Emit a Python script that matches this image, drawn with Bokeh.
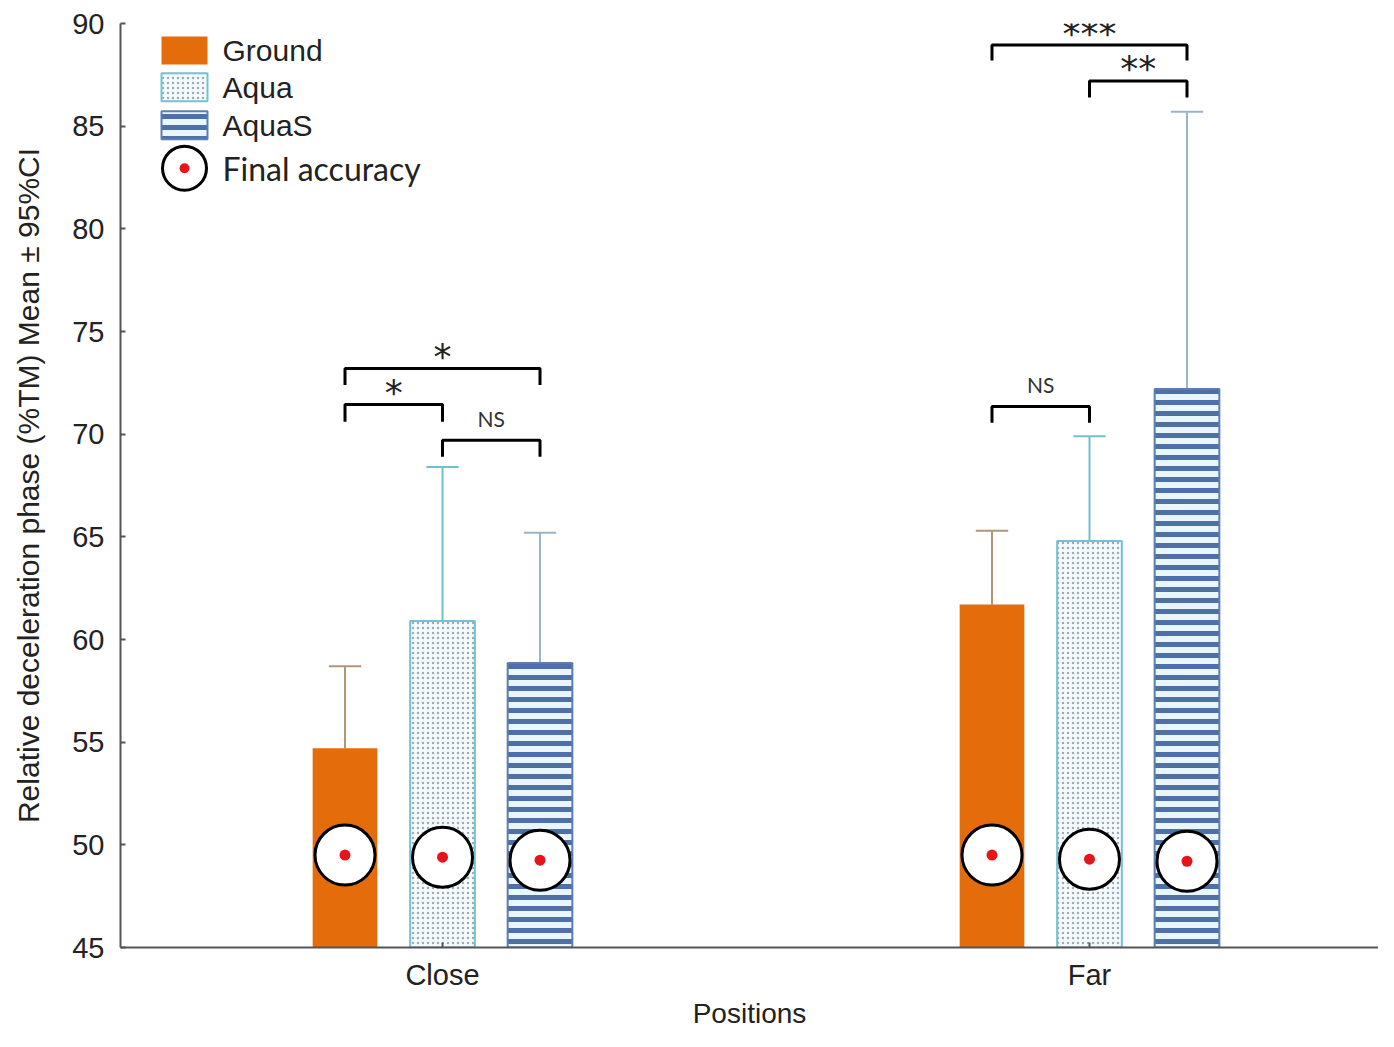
from bokeh.plotting import figure
from bokeh.models import Range1d, FixedTicker
from bokeh.embed import file_html
from bokeh.resources import INLINE
from bokeh.core.properties import value

# ---------------- data ----------------
positions = ["Close", "Far"]
series = ["Ground", "Aqua", "AquaS"]
mean_ground = [54.7, 61.7]
mean_aqua = [60.9, 64.8]
mean_aquas = [58.85, 72.2]
ci_up_ground = [58.7, 65.3]
ci_up_aqua = [68.4, 69.9]
ci_up_aquas = [65.2, 85.7]
acc_ground = [49.5, 49.5]
acc_aqua = [49.4, 49.3]
acc_aquas = [49.25, 49.2]
y_ticks = [45, 50, 55, 60, 65, 70, 75, 80, 85, 90]

# significance brackets: (position index, series from, series to, top, leg bottom, label)
br_pos = [0, 0, 0, 1, 1, 1]
br_from = [0, 0, 1, 0, 0, 1]
br_to = [2, 1, 2, 1, 2, 2]
br_top = [73.2, 71.45, 69.7, 71.35, 88.95, 87.2]
br_leg = [72.4, 70.6, 68.9, 70.55, 88.2, 86.4]
br_label = ["*", "*", "NS", "NS", "***", "**"]

# ---------------- layout / style ----------------
Y0, Y1 = 45, 90
X0, X1 = 0.5023, 2.4467
BAR_W = 0.1
OFFS = [-0.1507, 0.0, 0.1507]
FIG_W, FIG_H = 1378, 1031
B_LEFT, B_TOP, B_BOTTOM = 120, 23, 82
FRAME_W = FIG_W - B_LEFT
FRAME_H = FIG_H - B_TOP - B_BOTTOM

def sx(px):  # figure px -> data x (legend placement)
    return X0 + (px - B_LEFT) * (X1 - X0) / FRAME_W

def sy(py):
    return Y1 - (py - B_TOP) * (Y1 - Y0) / FRAME_H

styles = {
    "Ground": dict(fill_color="#e46c0a", line_color=None),
    "Aqua": dict(fill_color="#f5fbfe", hatch_pattern="dot", hatch_color="#a2abb5",
                 hatch_scale=5, hatch_weight=1.2, line_color="#72c2d2", line_width=2),
    "AquaS": dict(fill_color="#eaf6fd", hatch_pattern="horizontal_line", hatch_color="#4e70a6",
                  hatch_scale=11, hatch_weight=5, line_color="#5b7db0", line_width=2),
}
whisker_color = {"Ground": "#b39677", "Aqua": "#6fc0d0", "AquaS": "#9db3c9"}

means = [mean_ground, mean_aqua, mean_aquas]
ci_up = [ci_up_ground, ci_up_aqua, ci_up_aquas]
accs = [acc_ground, acc_aqua, acc_aquas]

p = figure(width=FIG_W, height=FIG_H, x_range=Range1d(X0, X1), y_range=Range1d(Y0, Y1),
           min_border_left=B_LEFT, min_border_right=0, min_border_top=B_TOP,
           min_border_bottom=B_BOTTOM, output_backend="svg", toolbar_location=None)
p.outline_line_color = None
p.grid.visible = False
p.background_fill_color = "white"

group_x = [i + 1 for i in range(len(positions))]

for si, name in enumerate(series):
    xs = [g + OFFS[si] for g in group_x]
    p.segment(x0=xs, y0=means[si], x1=xs, y1=ci_up[si], line_color=whisker_color[name], line_width=2)
    p.segment(x0=[x - 0.025 for x in xs], y0=ci_up[si], x1=[x + 0.025 for x in xs], y1=ci_up[si],
              line_color=whisker_color[name], line_width=2)
    p.vbar(x=xs, top=means[si], bottom=Y0, width=BAR_W, **styles[name])

for si, name in enumerate(series):
    xs = [g + OFFS[si] for g in group_x]
    p.circle(x=xs, y=accs[si], radius=30, radius_units="screen", fill_color="white",
             line_color="black", line_width=3)
    p.circle(x=xs, y=accs[si], radius=5.5, radius_units="screen", fill_color="#e8141c",
             line_color=None)

# brackets
bxs, bys, tx, ty, tl = [], [], [], [], []
for k in range(len(br_label)):
    xl = group_x[br_pos[k]] + OFFS[br_from[k]]
    xr = group_x[br_pos[k]] + OFFS[br_to[k]]
    bxs.append([xl, xl, xr, xr])
    bys.append([br_leg[k], br_top[k], br_top[k], br_leg[k]])
    tx.append((xl + xr) / 2)
    ty.append(br_top[k])
    tl.append(br_label[k])
p.multi_line(xs=bxs, ys=bys, line_color="black", line_width=3)
star_idx = [k for k in range(len(tl)) if tl[k] != "NS"]
ns_idx = [k for k in range(len(tl)) if tl[k] == "NS"]
p.text(x=[tx[k] for k in star_idx], y=[ty[k] for k in star_idx], text=[tl[k] for k in star_idx],
       text_align="center", text_baseline="middle", y_offset=-12,
       text_font=value("DejaVu Sans"), text_font_size="36px", text_color="#222222")
p.text(x=[tx[k] for k in ns_idx], y=[ty[k] for k in ns_idx], text=[tl[k] for k in ns_idx],
       text_align="center", text_baseline="middle", y_offset=-22,
       text_font=value("Lato"), text_font_size="21px", text_color="#333333")

# legend (manual)
leg_y = [50, 87, 125]
for si, name in enumerate(series):
    p.rect(x=[sx(184)], y=[sy(leg_y[si])], width=46, height=28, width_units="screen",
           height_units="screen", **styles[name])
    p.text(x=[sx(222)], y=[sy(leg_y[si])], text=[name], text_baseline="middle",
           text_font=value("Liberation Sans"), text_font_size="30px", text_color="#222222")
p.circle(x=[sx(184)], y=[sy(168)], radius=22, radius_units="screen", fill_color="white",
         line_color="black", line_width=3)
p.circle(x=[sx(184)], y=[sy(168)], radius=5, radius_units="screen", fill_color="#e8141c",
         line_color=None)
p.text(x=[sx(222)], y=[sy(168)], text=["Final accuracy"], text_baseline="middle",
       text_font=value("Lato"), text_font_size="32px", text_color="#222222")

# axes
p.yaxis.ticker = FixedTicker(ticks=y_ticks)
p.xaxis.ticker = FixedTicker(ticks=group_x)
p.xaxis.major_label_overrides = {g: positions[i] for i, g in enumerate(group_x)}
for ax in (p.xaxis, p.yaxis):
    ax.major_tick_in = 5
    ax.major_tick_out = 0
    ax.minor_tick_line_color = None
    ax.axis_line_color = "#555555"
    ax.axis_line_width = 2
    ax.major_tick_line_color = "#555555"
    ax.major_tick_line_width = 2
    ax.major_label_text_font = "Liberation Sans"
    ax.major_label_text_color = "#222222"
    ax.axis_label_text_font = "Liberation Sans"
    ax.axis_label_text_font_style = "normal"
    ax.axis_label_text_color = "#222222"
p.yaxis.major_label_text_font_size = "29px"
p.xaxis.major_label_text_font_size = "29px"
p.yaxis.axis_label = "Relative deceleration phase (%TM) Mean \u00b1 95%CI"
p.xaxis.axis_label = "Positions"
p.yaxis.axis_label_text_font_size = "30px"
p.xaxis.axis_label_text_font_size = "28px"
p.yaxis.major_label_standoff = 16
p.yaxis.axis_label_standoff = 24
p.xaxis.major_label_standoff = 11
p.xaxis.axis_label_standoff = 4

open("out.html", "w").write(file_html(p, INLINE))
